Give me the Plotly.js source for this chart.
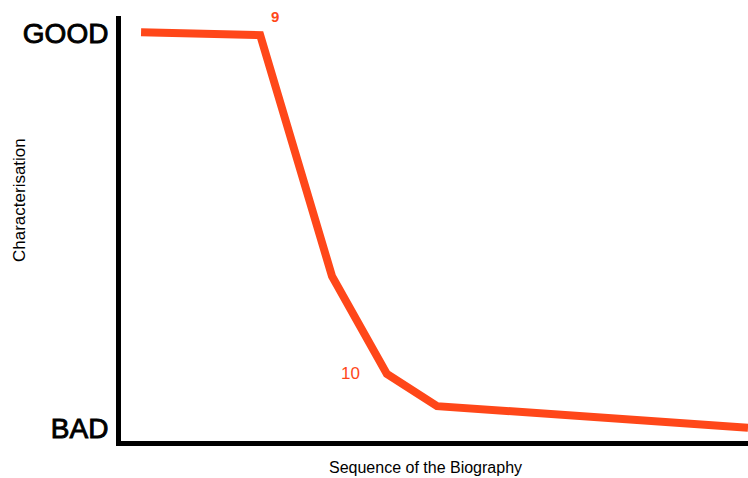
<!DOCTYPE html>
<html><head><meta charset="utf-8">
<script src="https://cdn.plot.ly/plotly-3.0.1.min.js"></script>
<style>html,body{margin:0;padding:0;background:#fff}#chart{width:748px;height:478px}
#chart .ytick text{stroke:#000;stroke-width:0.9px}
#chart .annotation-text{stroke-width:0.25px}
</style>
</head><body><div id="chart"></div>
<script>
const sequence = [3.2, 22.2, 33.65, 42.4, 50.4, 100];
const characterisation = [9.62, 9.55, 3.88, 1.58, 0.82, 0.31];
const tickValues = [0.3, 9.6];
const tickLabels = ['BAD', 'GOOD'];
const chapterLabels = ['9', '10'];
const chapterX = [24.6, 36.6];
const chapterY = [10.0, 1.6];

const trace = {
  x: sequence, y: characterisation, mode: 'lines', type: 'scatter',
  line: {color: '#ff4719', width: 8, shape: 'linear'},
  hoverinfo: 'none'
};
const font = 'Liberation Sans, Arial, sans-serif';
const annotations = chapterLabels.map((t, i) => ({
  x: chapterX[i], y: chapterY[i], xref: 'x', yref: 'y', text: t, showarrow: false,
  font: {family: font, size: i === 0 ? 15 : 17, color: '#ff4719', weight: i === 0 ? 'bold' : 'normal'}
}));
annotations.push({
  xref: 'paper', yref: 'paper', x: (425-121)/627, y: -(467-441)/425, xanchor: 'center', yanchor: 'middle',
  text: 'Sequence of the Biography', showarrow: false, font: {family: font, size: 16, color: '#000'}
});
annotations.push({
  xref: 'paper', yref: 'paper', x: -(121-19)/627, y: (441-200)/425, xanchor: 'center', yanchor: 'middle',
  text: 'Characterisation', textangle: -90, showarrow: false, font: {family: font, size: 17, color: '#000'}
});
const layout = {
  width: 748, height: 478,
  margin: {l: 121, r: 0, t: 16, b: 37},
  paper_bgcolor: '#fff', plot_bgcolor: '#fff',
  showlegend: false,
  xaxis: {range: [0, 100], showline: true, linecolor: '#000', linewidth: 5, showgrid: false,
    zeroline: false, showticklabels: false, ticks: ''},
  yaxis: {range: [0, 10], showline: true, linecolor: '#000', linewidth: 5, showgrid: false,
    zeroline: false, tickvals: tickValues, ticktext: tickLabels, ticks: '',
    tickfont: {family: font, size: 28, color: '#000'}, ticklabelstandoff: 2},
  annotations: annotations
};
Plotly.newPlot('chart', [trace], layout, {staticPlot: true, displayModeBar: false});
</script></body></html>
